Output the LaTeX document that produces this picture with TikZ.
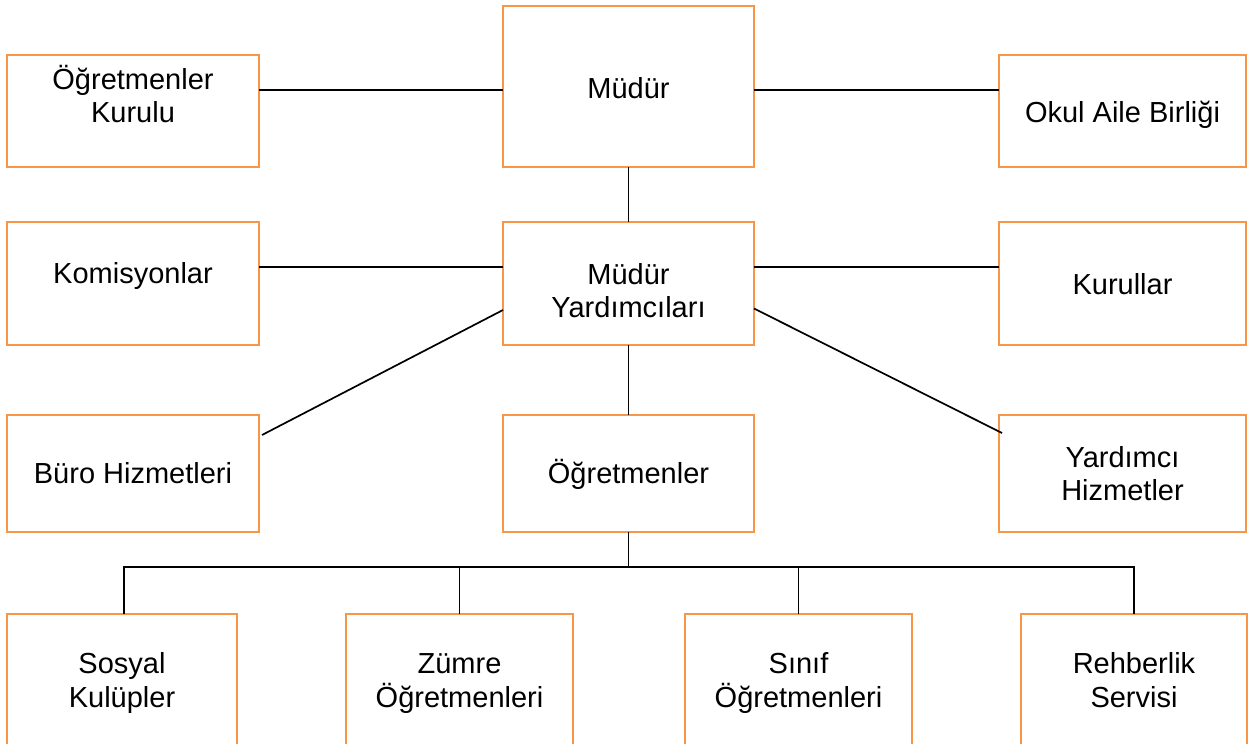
\documentclass[tikz,border=0pt]{standalone}
\usepackage{fontspec}
\setmainfont{Liberation Sans}
\definecolor{boxorange}{RGB}{247,150,70}
\tikzset{
  orgbox/.style={draw=boxorange, line width=2.2pt, rectangle, inner sep=0pt, outer sep=0pt, fill=white},
  lbl/.style={anchor=base, inner sep=0pt, font=\fontsize{29}{33}\selectfont, text=black},
  conn/.style={draw=black, line width=1.7pt}
}
\begin{document}
\begin{tikzpicture}[x=1pt, y=-1pt]
\useasboundingbox (0,0) rectangle (1248,744);
\clip (0,0) rectangle (1248,744);
\fill[white] (0,0) rectangle (1248,744);
% boxes
\node[orgbox, minimum width=252pt, minimum height=112pt] (ogk) at (133,111) {};
\node[orgbox, minimum width=251pt, minimum height=161pt] (mud) at (628.5,86.5) {};
\node[orgbox, minimum width=247pt, minimum height=112pt] (oab) at (1122.5,111) {};
\node[orgbox, minimum width=252pt, minimum height=123pt] (kom) at (133,283.5) {};
\node[orgbox, minimum width=251pt, minimum height=123pt] (my) at (628.5,283.5) {};
\node[orgbox, minimum width=247pt, minimum height=123pt] (kur) at (1122.5,283.5) {};
\node[orgbox, minimum width=252pt, minimum height=117pt] (buro) at (133,473.5) {};
\node[orgbox, minimum width=251pt, minimum height=117pt] (ogr) at (628.5,473.5) {};
\node[orgbox, minimum width=247pt, minimum height=117pt] (yh) at (1122.5,473.5) {};
\node[orgbox, minimum width=230pt, minimum height=160pt] (sos) at (122,694) {};
\node[orgbox, minimum width=227pt, minimum height=160pt] (zum) at (459.5,694) {};
\node[orgbox, minimum width=227pt, minimum height=160pt] (sin) at (798.5,694) {};
\node[orgbox, minimum width=226pt, minimum height=160pt] (reh) at (1134,694) {};
% labels
\node[lbl] (t1a) at (133,89) {Öğretmenler};
\node[lbl] (t1b) at (133,122) {Kurulu};
\node[lbl] (t2) at (628.5,98) {Müdür};
\node[lbl] (t3) at (1122.5,122) {Okul Aile Birliği};
\node[lbl] (t4) at (133,283) {Komisyonlar};
\node[lbl] (t5a) at (628.5,284) {Müdür};
\node[lbl] (t5b) at (628.5,317) {Yardımcıları};
\node[lbl] (t6) at (1122.5,294) {Kurullar};
\node[lbl] (t7) at (133,483) {Büro Hizmetleri};
\node[lbl] (t8) at (628.5,483) {Öğretmenler};
\node[lbl] (t9a) at (1122.5,467) {Yardımcı};
\node[lbl] (t9b) at (1122.5,500) {Hizmetler};
\node[lbl] (t10a) at (122,673) {Sosyal};
\node[lbl] (t10b) at (122,707) {Kulüpler};
\node[lbl] (t11a) at (459.5,673) {Zümre};
\node[lbl] (t11b) at (459.5,707) {Öğretmenleri};
\node[lbl] (t12a) at (798.5,673) {Sınıf};
\node[lbl] (t12b) at (798.5,707) {Öğretmenleri};
\node[lbl] (t13a) at (1134,673) {Rehberlik};
\node[lbl] (t13b) at (1134,707) {Servisi};
% helper coordinates
\coordinate (ytop) at (0,90);
\coordinate (ymid) at (0,267);
\coordinate (bus) at (629,567);
% connectors
\draw[conn] (ogk.east |- ytop) -- (mud.west |- ytop);
\draw[conn] (mud.east |- ytop) -- (oab.west |- ytop);
\draw[conn] (mud.south) -- (my.north);
\draw[conn] (kom.east |- ymid) -- (my.west |- ymid);
\draw[conn] (my.east |- ymid) -- (kur.west |- ymid);
\draw[conn] ([yshift=-26.5pt]my.west) -- ([xshift=3pt,yshift=38.5pt]buro.east);
\draw[conn] ([yshift=-25pt]my.east) -- ([xshift=3pt,yshift=40.5pt]yh.west);
\draw[conn] (my.south) -- (ogr.north);
\draw[conn] (ogr.south) -- (ogr.south |- bus);
\draw[conn] ([xshift=2pt]sos.north) -- ([xshift=2pt]sos.north |- bus) -- (reh.north |- bus) -- (reh.north);
\draw[conn] (zum.north) -- (zum.north |- bus);
\draw[conn] (sin.north) -- (sin.north |- bus);
\end{tikzpicture}
\end{document}
